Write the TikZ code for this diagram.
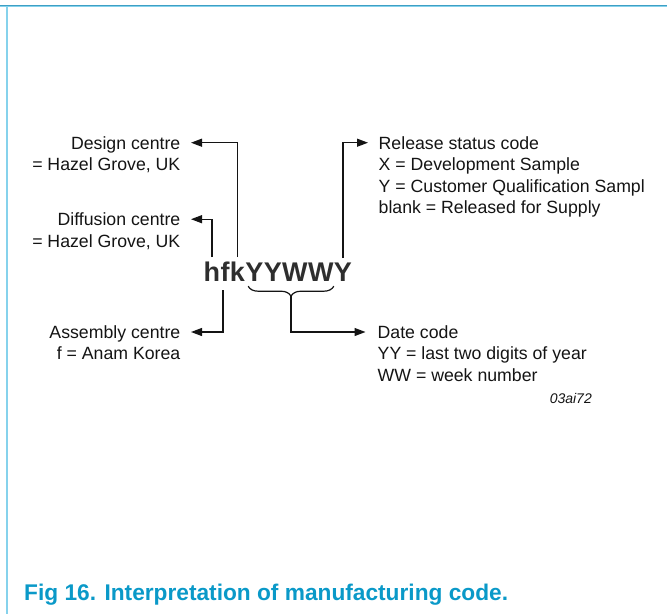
\documentclass[tikz,border=0pt]{standalone}
\usepackage{fontspec}
\setmainfont{Liberation Sans}
\usetikzlibrary{arrows.meta,decorations.pathreplacing,calc}
\definecolor{capblue}{HTML}{0A99C8}
\definecolor{framedark}{HTML}{3E9FC4}
\definecolor{framelight}{HTML}{86D2EC}
\definecolor{txt}{HTML}{141414}
\definecolor{codetxt}{HTML}{2E2E2E}
\begin{document}
\begin{tikzpicture}[x=1pt,y=-1pt,
  lbl/.style={font=\fontsize{17.7}{21}\selectfont, inner sep=0pt, text=txt, text height=12.6pt, text depth=0pt},
  lblL/.style={lbl, anchor=base east},
  lblR/.style={lbl, anchor=base west},
  letter/.style={font=\bfseries\fontsize{27}{30}\selectfont, inner sep=0pt, text=codetxt, anchor=base west},
  conn/.style={line width=1.2pt, txt, -{Triangle[length=11pt,width=8pt]}},
  bracestyle/.style={line width=1.2pt, txt, decorate, decoration={brace, mirror, amplitude=10pt}},
  frameline/.style={line width=1.3pt}
]
\useasboundingbox (0,0) rectangle (667,614);
% frame
\draw[frameline, framelight] (7,6.5) -- (7,614);
\draw[line width=1pt, framedark] (0,5.4) -- (667,5.4);
\draw[line width=0.9pt, framelight] (0,6.6) -- (667,6.6);

% code letters
\node[letter] (h) at (203.5,281) {h};
\node[letter] (f) at (h.base east) {f};
\node[letter] (k) at (f.base east) {k};
\node[letter] (Ya) at (k.base east) {Y};
\node[letter] (Yb) at (Ya.base east) {Y};
\node[letter] (Wa) at (Yb.base east) {W};
\node[letter] (Wb) at (Wa.base east) {W};
\node[letter] (Yc) at (Wb.base east) {Y};

% left labels
\node[lblL] (dsg) at (180.5,149) {Design centre};
\node[lblL] (dsgb) at (180.5,170.5) {= Hazel Grove, UK};
\node[lblL] (dif) at (180.5,225.5) {Diffusion centre};
\node[lblL] (difb) at (180.5,247) {= Hazel Grove, UK};
\node[lblL] (asm) at (180.5,338.3) {Assembly centre};
\node[lblL] (asmb) at (180.5,359.8) {f = Anam Korea};

% right labels
\node[lblR] (rel) at (378.5,149) {Release status code};
\node[lblR] (relb) at (378.5,170.6) {X = Development Sample};
\node[lblR] (relc) at (378.5,192.2) {Y = Customer Qualification Sampl};
\node[lblR] (reld) at (378.5,213.8) {blank = Released for Supply};
\node[lblR] (dat) at (377.5,338.3) {Date code};
\node[lblR] (datb) at (377.5,359.9) {YY = last two digits of year};
\node[lblR] (datc) at (377.5,381.5) {WW = week number};
\node[font=\itshape\fontsize{14}{16}\selectfont, inner sep=0pt, text=txt, anchor=base east] (ref) at (592,403) {03ai72};

% connectors
\draw[conn] ([yshift=4pt]k.north) |- ([xshift=10.5pt]dsg.east);
\draw[conn] ([yshift=4pt]h.north) |- ([xshift=10.5pt]dif.east);
\draw[conn] ([xshift=-2pt,yshift=-9pt]f.south) |- ([xshift=10.5pt]asm.east);
\draw[conn] ([yshift=4pt]Yc.north) |- ([xshift=-10.5pt]rel.west);

% brace
\coordinate (bs) at ([xshift=3pt,yshift=-5pt]Ya.south west);
\coordinate (be) at ([xshift=0pt,yshift=-5pt]Wb.south east);
\draw[bracestyle] (bs) -- (be);
\coordinate (btip) at ($(bs)!0.5!(be)+(0,10)$);
\draw[conn] (btip) |- ([xshift=-12pt]dat.west);

% caption
\node[font=\bfseries\fontsize{22.7}{26}\selectfont, inner sep=0pt, text=capblue, anchor=base west] (cap) at (24,600) {Fig 16. Interpretation of manufacturing code.};
\end{tikzpicture}
\end{document}
